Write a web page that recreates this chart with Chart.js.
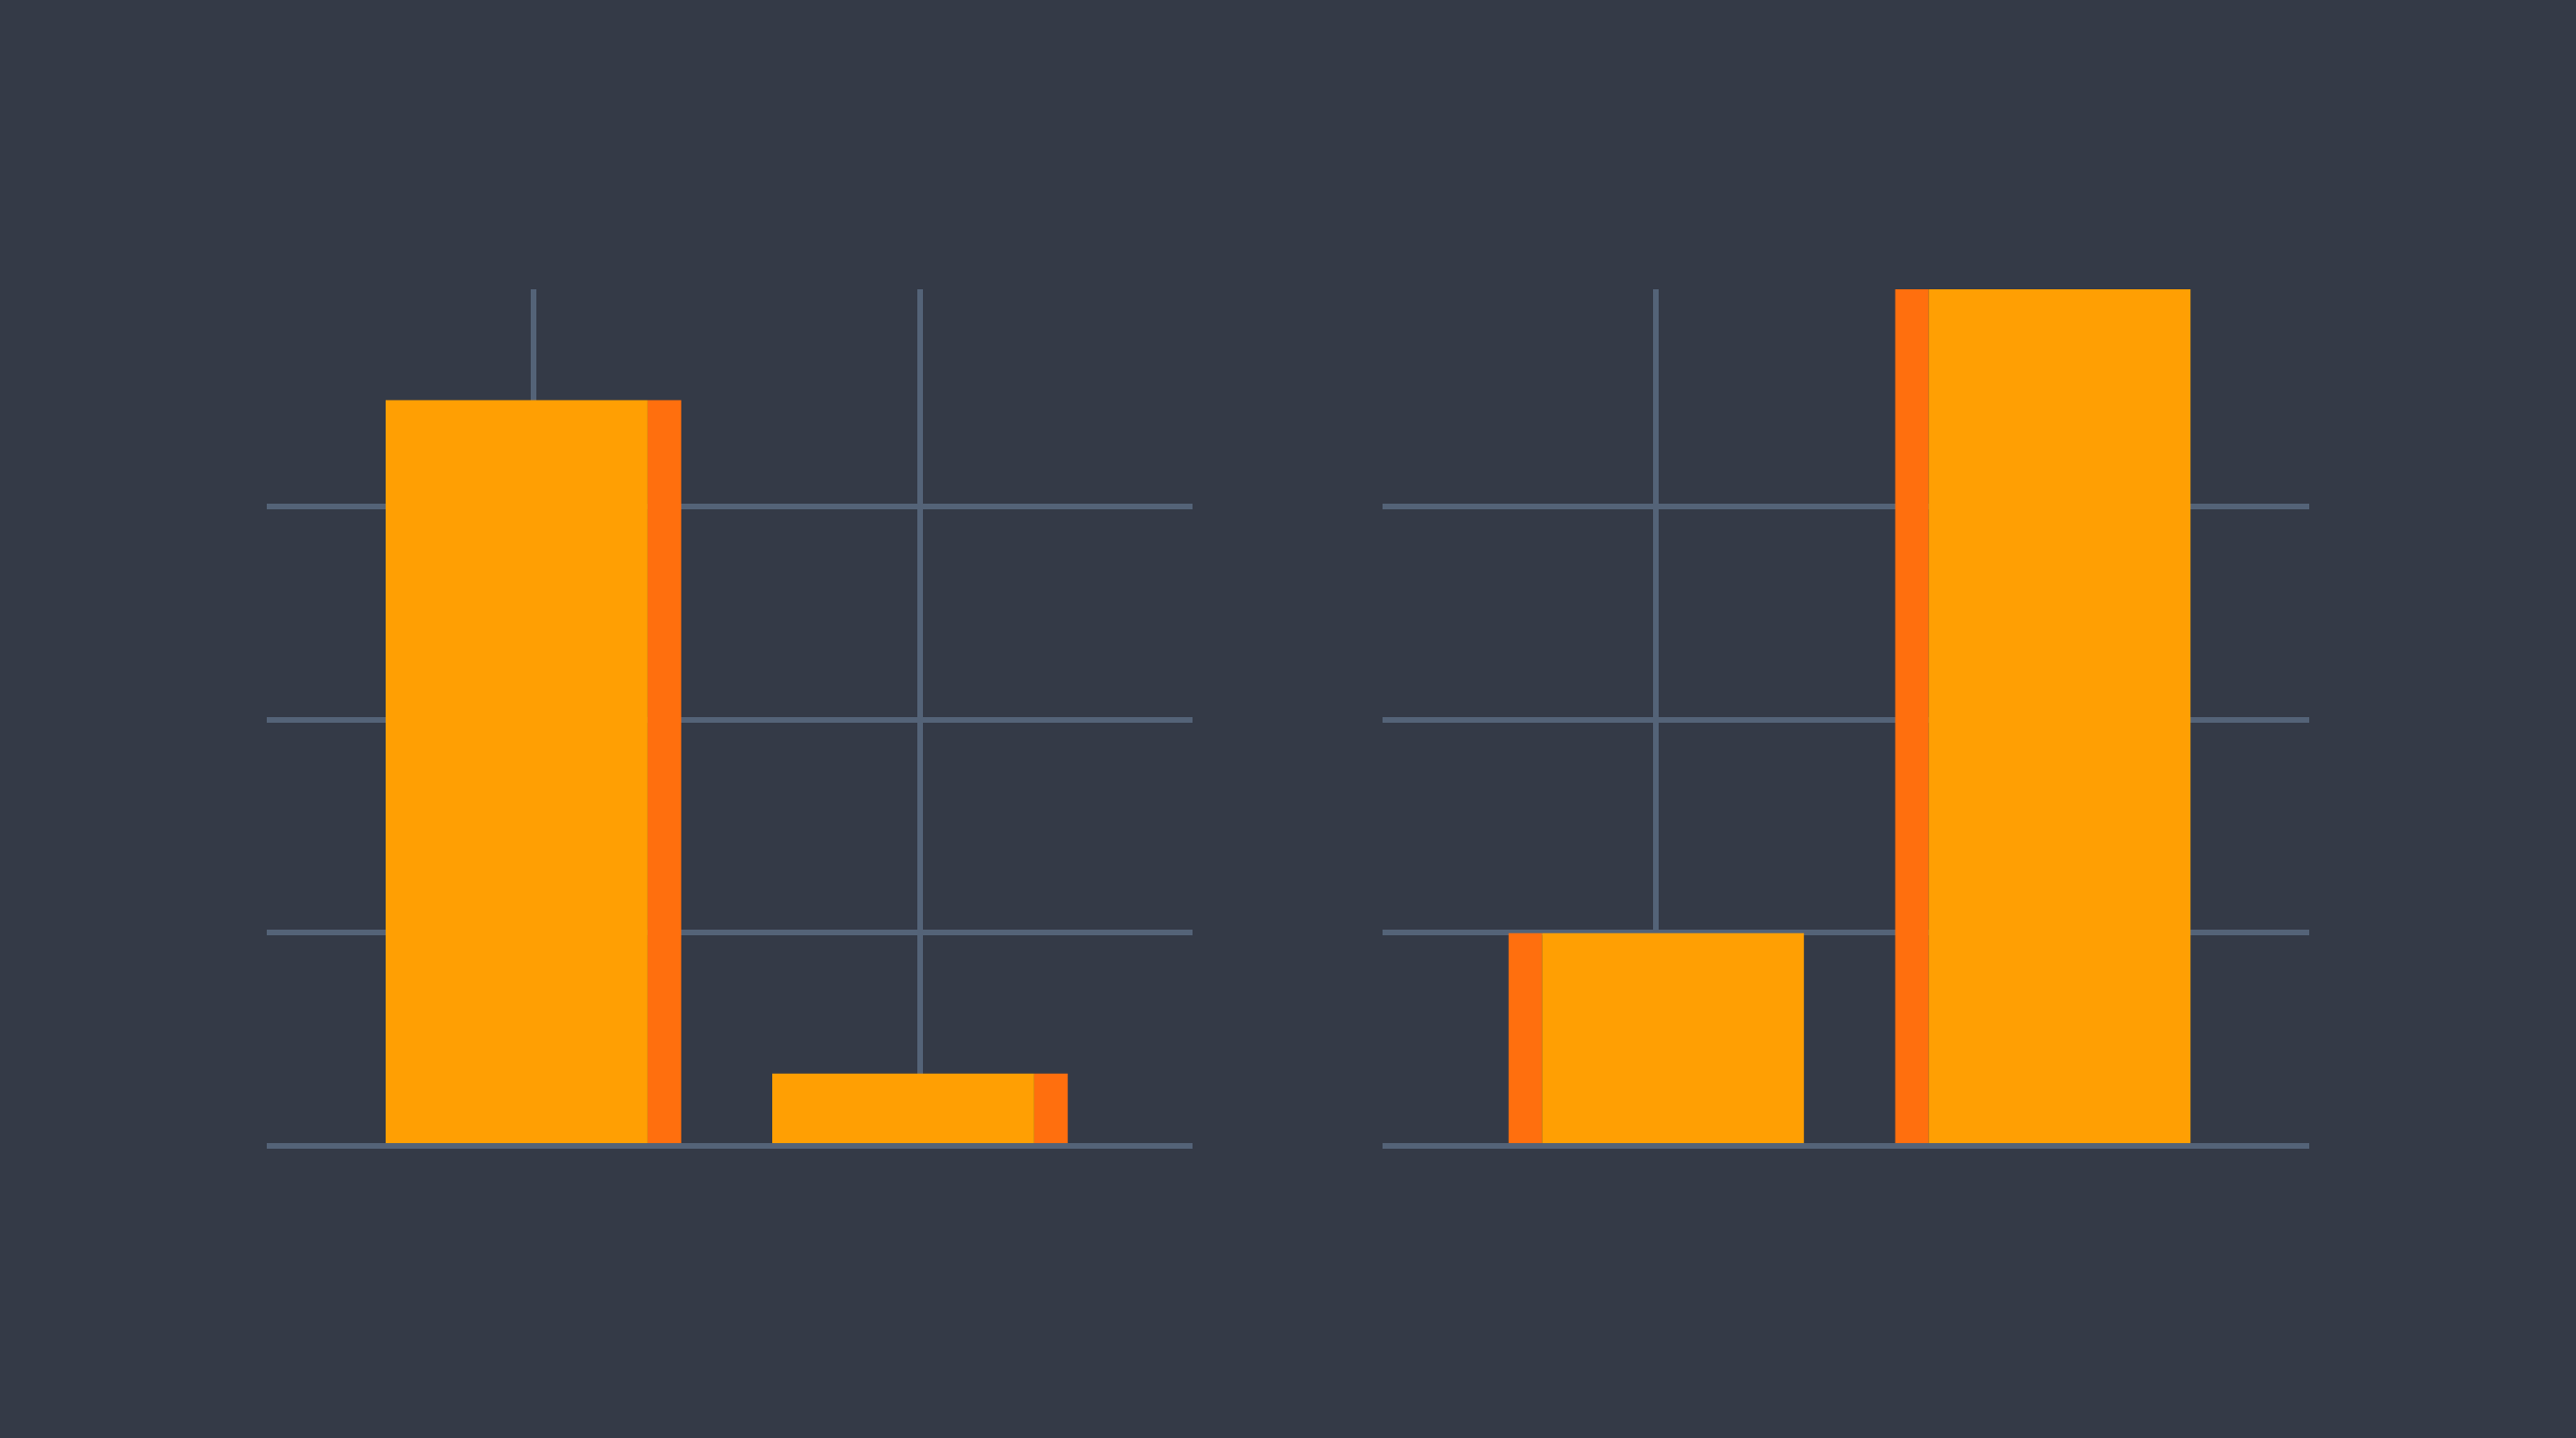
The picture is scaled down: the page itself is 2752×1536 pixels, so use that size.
<!DOCTYPE html>
<html>
<head>
<meta charset="utf-8">
<script src="https://cdn.jsdelivr.net/npm/chart.js@4/dist/chart.umd.min.js"></script>
<style>
  html, body { margin: 0; padding: 0; background: #343a47; width: 2752px; height: 1536px; overflow: hidden; }
  .panel { position: absolute; }
  #leftPanel { left: 285px; top: 300px; width: 989px; height: 934px; }
  #rightPanel { left: 1477px; top: 300px; width: 990px; height: 934px; }
</style>
</head>
<body>
<div class="panel" id="leftPanel"><canvas id="leftChart"></canvas></div>
<div class="panel" id="rightPanel"><canvas id="rightChart"></canvas></div>
<script>
// data
const barPositions = [1, 2];
const leftValues = [3.5, 0.34];
const rightValues = [1, 4.02];
const yTicks = [0, 1, 2, 3];
const yMax = 4.02;

const BAR = "#ff9f03";
const STRIPE = "#ff6f0e";
const GRID = "#546378";

function makeChart(id, values, stripe, xMin, xMax) {
  const ctx = document.getElementById(id).getContext("2d");
  return new Chart(ctx, {
    type: "bar",
    data: {
      datasets: [{
        data: barPositions.map((x, i) => ({ x: x, y: values[i] })),
        backgroundColor: BAR,
        borderColor: STRIPE,
        borderWidth: stripe,
        borderSkipped: false,
        categoryPercentage: 1,
        barPercentage: 0.765
      }]
    },
    options: {
      responsive: true,
      maintainAspectRatio: false,
      animation: false,
      devicePixelRatio: 1,
      layout: { padding: { top: 9, bottom: 10, left: 0, right: 0 } },
      plugins: { legend: { display: false }, tooltip: { enabled: false } },
      scales: {
        x: {
          type: "linear",
          min: xMin,
          max: xMax,
          offset: false,
          afterBuildTicks: (scale) => { scale.ticks = barPositions.map((v) => ({ value: v })); },
          ticks: { display: false },
          border: { display: false },
          grid: { color: GRID, lineWidth: 6, drawTicks: false, offset: false }
        },
        y: {
          min: 0,
          max: yMax,
          afterBuildTicks: (scale) => { scale.ticks = yTicks.map((v) => ({ value: v })); },
          ticks: { display: false },
          border: { display: false },
          grid: { color: GRID, lineWidth: 6, drawTicks: false }
        }
      }
    }
  });
}

// left panel: stripe on the right side of each bar
makeChart("leftChart", leftValues, { left: 0, right: 36, top: 0, bottom: 0 }, 0.31, 2.705);
// right panel: stripe on the left side
makeChart("rightChart", rightValues, { left: 36, right: 0, top: 0, bottom: 0 }, 0.292, 2.689);
</script>
</body>
</html>
